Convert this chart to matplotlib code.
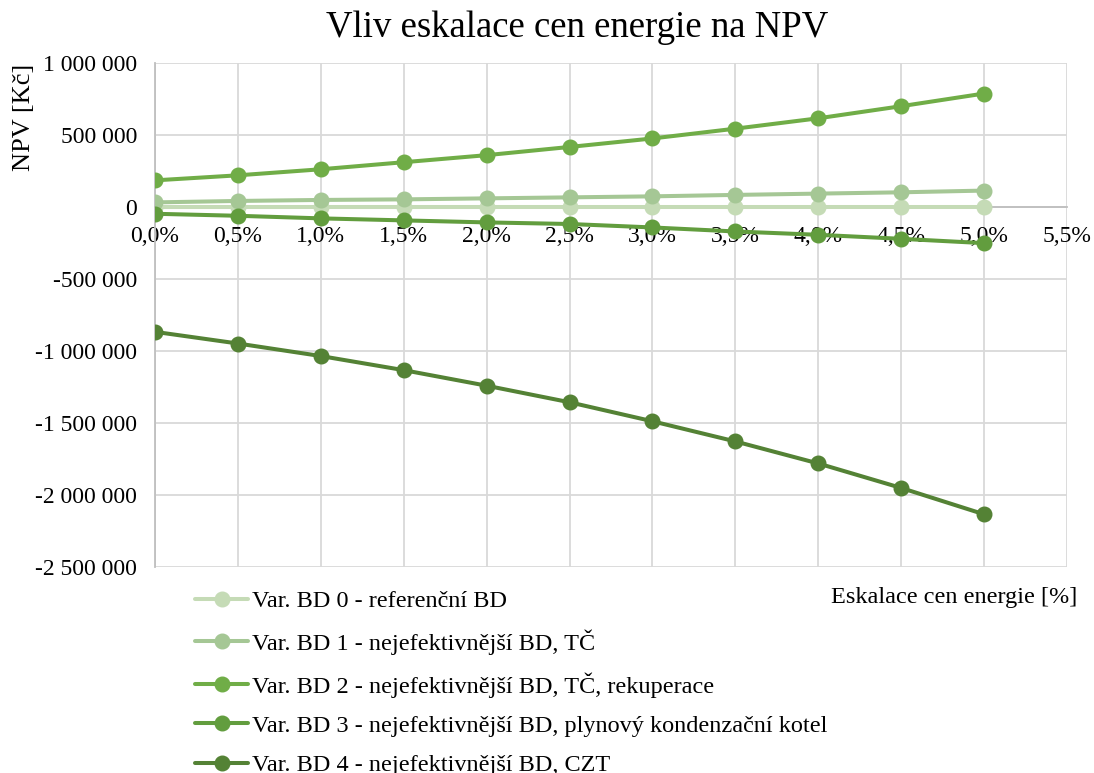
import matplotlib.pyplot as plt
from matplotlib.ticker import FuncFormatter, MultipleLocator

plt.rcParams['font.family'] = ['Liberation Serif', 'DejaVu Serif']

# Eskalace cen energie [%]
escalation = [0.0, 0.5, 1.0, 1.5, 2.0, 2.5, 3.0, 3.5, 4.0, 4.5, 5.0]

# NPV [Kč] for each building variant
npv_bd0 = [0, 0, 0, 0, 0, 0, 0, 0, 0, 0, 0]
npv_bd1 = [32000, 42000, 49000, 53000, 60000, 67000, 74000, 84000, 93000, 102000, 114000]
npv_bd2 = [185000, 220000, 262000, 311000, 360000, 417000, 476000, 544000, 616000, 700000, 788000]
npv_bd3 = [-47000, -61000, -79000, -93000, -107000, -118000, -142000, -170000, -193000, -221000, -251000]
npv_bd4 = [-867000, -948000, -1035000, -1133000, -1241000, -1356000, -1488000, -1628000, -1781000, -1951000, -2134000]

labels = [
    'Var. BD 0 - referenční BD',
    'Var. BD 1 - nejefektivnější BD, TČ',
    'Var. BD 2 - nejefektivnější BD, TČ, rekuperace',
    'Var. BD 3 - nejefektivnější BD, plynový kondenzační kotel',
    'Var. BD 4 - nejefektivnější BD, CZT',
]
colors = ['#C5DBB6', '#A5C795', '#70AD47', '#629D3E', '#548235']
series = [npv_bd0, npv_bd1, npv_bd2, npv_bd3, npv_bd4]

fig = plt.figure(figsize=(10.94, 7.73), dpi=100)
ax = fig.add_axes([155 / 1094, 1 - 567 / 773, 912 / 1094, 504 / 773])

for vals, col, lab in zip(series, colors, labels):
    ax.plot(escalation, vals, color=col, lw=2.9, marker='o', ms=10.5,
            label=lab, zorder=3, solid_capstyle='round')

ax.set_xlim(0, 5.5)
ax.set_ylim(-2500000, 1000000)
ax.xaxis.set_major_locator(MultipleLocator(0.5))
ax.yaxis.set_major_locator(MultipleLocator(500000))
ax.xaxis.set_major_formatter(FuncFormatter(lambda v, p: f'{v:.1f}%'.replace('.', ',')))
ax.yaxis.set_major_formatter(FuncFormatter(lambda v, p: f'{int(v):,}'.replace(',', ' ')))

ax.set_axisbelow(True)
ax.grid(True, color='#D9D9D9', lw=1.3)
ax.tick_params(length=0, labelsize=17, colors='black')
ax.tick_params(axis='x', pad=14)
ax.tick_params(axis='y', pad=13)

# horizontal axis crosses at zero
ax.spines['bottom'].set_position(('data', 0))
for side in ['top', 'right']:
    ax.spines[side].set_visible(False)
for side in ['bottom', 'left']:
    ax.spines[side].set_color('#BFBFBF')
    ax.spines[side].set_linewidth(1.3)
    ax.spines[side].set_zorder(1)

fig.text(577 / 1094, 1 - 28 / 773, 'Vliv eskalace cen energie na NPV',
         ha='center', va='center', fontsize=26.5)
fig.text(24 / 1094, 1 - 117 / 773, 'NPV [Kč]', rotation=90,
         ha='center', va='center', fontsize=19)
fig.text(1077 / 1094, 1 - 598 / 773, 'Eskalace cen energie [%]',
         ha='right', va='center', fontsize=17.5)

handles, labs = ax.get_legend_handles_labels()
fig.legend(handles, labs, loc='upper left', bbox_to_anchor=(195 / 1094, 1 - 590 / 773),
           frameon=False, fontsize=17.5, handlelength=2.2, handletextpad=0.15,
           labelspacing=0.71, borderpad=0, borderaxespad=0, markerscale=1.0)

fig.savefig('out.png', dpi=100)
